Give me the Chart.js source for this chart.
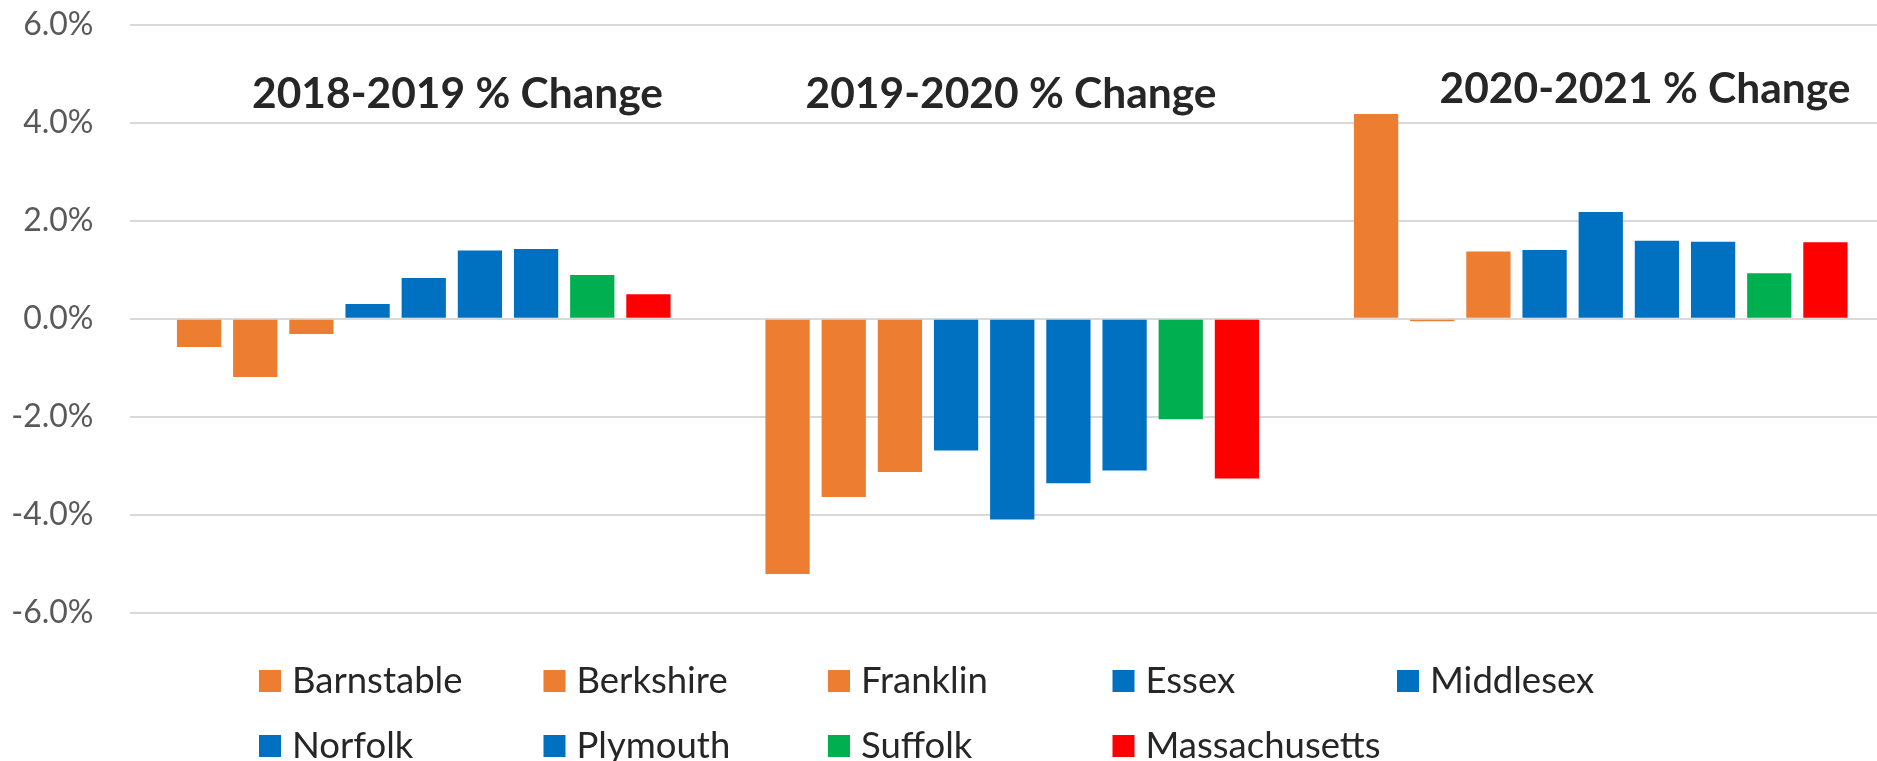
<!DOCTYPE html>
<html>
<head>
<meta charset="utf-8">
<script src="https://cdn.jsdelivr.net/npm/chart.js@4.4.1/dist/chart.umd.min.js"></script>
<style>
html,body{margin:0;padding:0;overflow:hidden;background:#fff;width:1877px;height:761px}
#wrap{position:relative;width:1900px;height:761px}
</style>
</head>
<body>
<div id="wrap"><canvas id="c" width="1900" height="761"></canvas></div>
<script>
// ---- data ----
const periods = ['2018-2019 % Change', '2019-2020 % Change', '2020-2021 % Change'];
const seriesNames = ['Barnstable', 'Berkshire', 'Franklin', 'Essex', 'Middlesex', 'Norfolk', 'Plymouth', 'Suffolk', 'Massachusetts'];
const barnstable    = [-0.58, -5.21, 4.18];
const berkshire     = [-1.19, -3.64, -0.05];
const franklin      = [-0.31, -3.13, 1.37];
const essex         = [0.30, -2.69, 1.40];
const middlesex     = [0.83, -4.10, 2.18];
const norfolk       = [1.39, -3.36, 1.59];
const plymouth      = [1.42, -3.10, 1.57];
const suffolk       = [0.89, -2.05, 0.93];
const massachusetts = [0.50, -3.26, 1.56];
const yTickValues = [-6, -4, -2, 0, 2, 4, 6];

// ---- styles ----
const ORANGE = '#ED7D31', BLUE = '#0070C0', GREEN = '#00B050', RED = '#FF0000';
const seriesValues = [barnstable, berkshire, franklin, essex, middlesex, norfolk, plymouth, suffolk, massachusetts];
const seriesColors = [ORANGE, ORANGE, ORANGE, BLUE, BLUE, BLUE, BLUE, GREEN, RED];
const FONT = 'Lato, "Noto Sans", sans-serif';

// title placement (pixel layout, not data)
const titleLayout = [
  {x: 457.5, y: 108},
  {x: 1011, y: 108},
  {x: 1645, y: 103}
];

const titlePlugin = {
  id: 'groupTitles',
  afterDraw(chart) {
    const ctx = chart.ctx;
    ctx.save();
    ctx.font = 'bold 42.5px ' + FONT;
    ctx.fillStyle = '#262626';
    ctx.textAlign = 'center';
    ctx.textBaseline = 'alphabetic';
    chart.data.labels.forEach((lab, i) => {
      ctx.fillText(lab, titleLayout[i].x, titleLayout[i].y);
    });
    ctx.restore();
  }
};

const legendPlugin = {
  id: 'gridLegend',
  afterDraw(chart) {
    const ctx = chart.ctx;
    ctx.save();
    ctx.font = '36.5px ' + FONT;
    ctx.textAlign = 'left';
    ctx.textBaseline = 'alphabetic';
    chart.data.datasets.forEach((ds, i) => {
      const col = i % 5, row = Math.floor(i / 5);
      const x = 259 + col * 284.5;
      const top = 670 + row * 65;
      ctx.fillStyle = ds.backgroundColor;
      ctx.fillRect(x, top, 22, 22);
      ctx.fillStyle = '#262626';
      ctx.fillText(ds.label, x + 33, 693 + row * 65);
    });
    ctx.restore();
  }
};

new Chart(document.getElementById('c'), {
  type: 'bar',
  data: {
    labels: periods,
    datasets: seriesNames.map((name, i) => ({
      label: name,
      data: seriesValues[i],
      backgroundColor: seriesColors[i],
      borderWidth: 0,
      categoryPercentage: 0.859,
      barPercentage: 0.788
    }))
  },
  options: {
    responsive: false,
    animation: false,
    devicePixelRatio: 1,
    layout: {padding: {top: 24.7, right: 5, bottom: 148.3, left: 0}},
    plugins: {legend: {display: false}, tooltip: {enabled: false}, title: {display: false}},
    scales: {
      x: {display: false, offset: true, grid: {display: false}},
      y: {
        min: -6, max: 6,
        afterBuildTicks(scale) { scale.ticks = yTickValues.map(v => ({value: v})); },
        afterFit(scale) { scale.width = 129.5; scale.paddingTop = 0; scale.paddingBottom = 0; },
        ticks: {
          padding: 36,
          color: '#595959',
          font: {family: FONT, size: 32},
          callback: v => v.toFixed(1) + '%'
        },
        grid: {color: '#D9D9D9', lineWidth: 2, drawTicks: false},
        border: {display: false}
      }
    }
  },
  plugins: [titlePlugin, legendPlugin]
});
</script>
</body>
</html>
